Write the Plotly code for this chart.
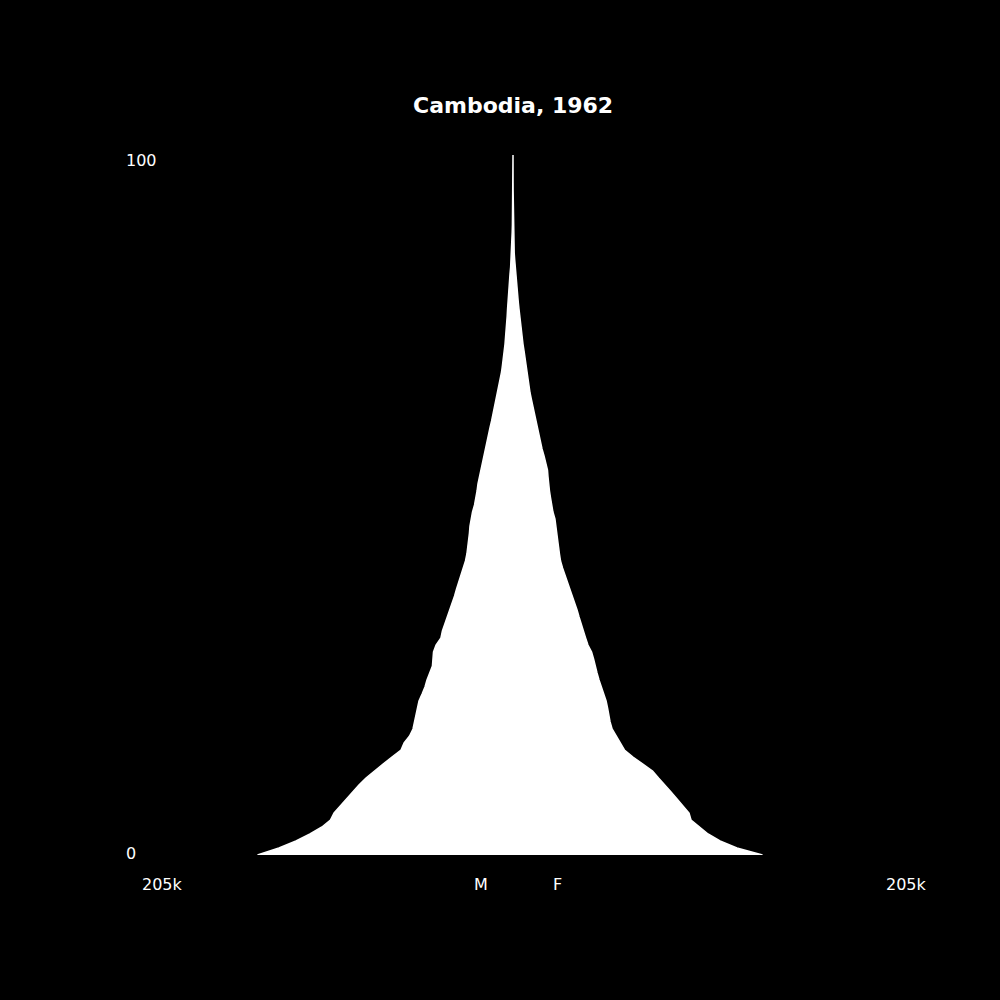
import plotly.graph_objects as go

title_text = "Cambodia, 1962"
ages = list(range(0, 101))

male = [
    140800, 129000, 119600, 111900, 105300, 100600, 98600, 95300, 92000, 88700,
    84900, 81000, 76600, 71600, 66700, 61700, 60000, 57000, 55100, 54300,
    53500, 52900, 51800, 50100, 48500, 47400, 45700, 44400, 44100, 43800,
    42400, 39700, 38900, 37500, 36100, 35000, 33600, 32200, 31100, 29800,
    28700, 27300, 26200, 25400, 24800, 24500, 24000, 23700, 23100, 22300,
    21200, 20400, 19800, 19300, 18500, 17900, 17100, 16300, 15400, 14300,
    13500, 12700, 11800, 11000, 10200, 9400, 8500, 7700, 6900, 6300,
    5800, 5200, 4700, 4400, 4100, 3700, 3500, 3200, 3000, 2800,
    2600, 2300, 2000, 1650, 1300, 1050, 830, 660, 550, 440,
    330, 260, 200, 150, 110, 80, 55, 40, 25, 15, 10,
]

female = [
    137500, 123400, 114100, 107500, 102500, 98100, 97000, 93700, 90400, 87100,
    83800, 80200, 76900, 71600, 66100, 61400, 59200, 56800, 54600, 53500,
    52600, 52100, 51300, 50100, 48800, 47400, 46300, 45200, 44400, 43300,
    41300, 40000, 38600, 37500, 36400, 35300, 33900, 32500, 31400, 30000,
    28700, 27300, 26200, 25600, 25100, 24800, 24200, 23700, 23100, 22000,
    21200, 20700, 20100, 19600, 19300, 19000, 18200, 17100, 16000, 15200,
    14300, 13500, 12700, 11800, 11000, 10200, 9400, 8800, 8300, 7700,
    7200, 6600, 6100, 5500, 5200, 4700, 4100, 3700, 3300, 2900,
    2600, 2200, 1900, 1550, 1200, 940, 660, 500, 390, 280,
    220, 170, 130, 100, 75, 55, 40, 28, 18, 10, 6,
]

x_max = 205000
x_tick_label = "205k"
y_tick_labels = ["0", "100"]
sex_labels = ["M", "F"]

# Closed polygon: male side (negative) going up, female side going down
poly_x = [-v for v in male] + female[::-1]
poly_y = ages + ages[::-1]

fig = go.Figure()
fig.add_trace(go.Scatter(
    x=poly_x, y=poly_y, mode="lines", fill="toself",
    fillcolor="white", line=dict(color="white", width=1.5),
    hoverinfo="skip", showlegend=False,
))

font_family = "DejaVu Sans"
lab_font = dict(family=font_family, size=16, color="white")

annotations = [
    dict(text=f"<b>{title_text}</b>", xref="paper", yref="paper", x=0.5, y=1.071,
         xanchor="center", yanchor="middle", showarrow=False,
         font=dict(family=font_family, size=22, color="white")),
    dict(text=y_tick_labels[1], xref="paper", yref="y", x=-0.023, y=100,
         xanchor="left", yanchor="middle", yshift=-5, showarrow=False, font=lab_font),
    dict(text=y_tick_labels[0], xref="paper", yref="y", x=-0.023, y=0,
         xanchor="left", yanchor="middle", yshift=2, showarrow=False, font=lab_font),
    dict(text=x_tick_label, xref="x", yref="paper", x=-x_max, y=-0.042,
         xanchor="left", yanchor="middle", xshift=-1.5, showarrow=False, font=lab_font),
    dict(text=x_tick_label, xref="x", yref="paper", x=x_max, y=-0.042,
         xanchor="left", yanchor="middle", xshift=-1.5, showarrow=False, font=lab_font),
    dict(text=sex_labels[0], xref="x", yref="paper", x=-21500, y=-0.042,
         xanchor="left", yanchor="middle", xshift=-1.5, showarrow=False, font=lab_font),
    dict(text=sex_labels[1], xref="x", yref="paper", x=21500, y=-0.042,
         xanchor="left", yanchor="middle", xshift=-1.5, showarrow=False, font=lab_font),
]

fig.update_layout(
    width=1000, height=1000,
    paper_bgcolor="black", plot_bgcolor="black",
    margin=dict(l=141, r=115, t=155, b=145, autoexpand=False),
    xaxis=dict(range=[-x_max, x_max], visible=False, fixedrange=True),
    yaxis=dict(range=[0, 100], visible=False, fixedrange=True),
    annotations=annotations,
    showlegend=False,
)

fig.write_html(
    "out.html",
    config={"displayModeBar": False},
    post_script="document.body.style.margin='0';document.body.style.background='black';",
)
